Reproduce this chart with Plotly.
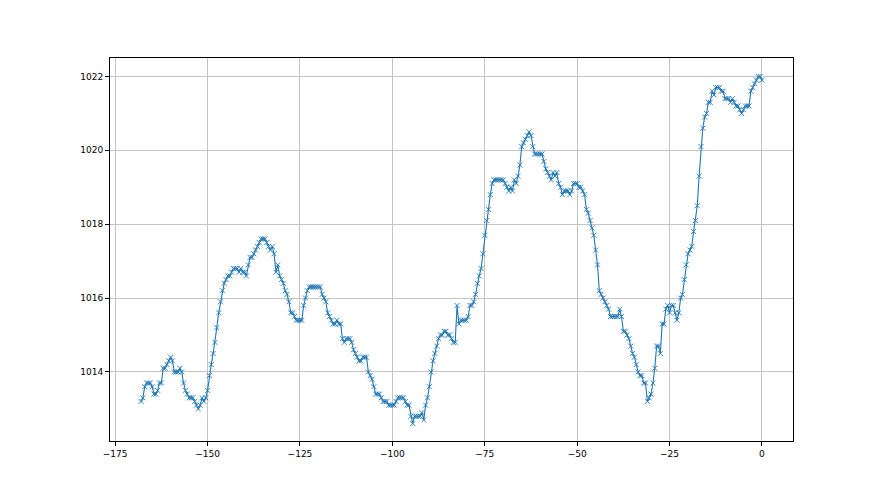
import numpy as np
import plotly.graph_objects as go

# hours relative to now, half-hour steps
hours = np.arange(-168, 0.25, 0.5)

pressure = [
    1013.2, 1013.3, 1013.6, 1013.7, 1013.7, 1013.7, 1013.6, 1013.4, 1013.4, 1013.5,
    1013.7, 1013.7, 1014.1, 1014.1, 1014.2, 1014.3, 1014.4, 1014.3, 1014.0, 1014.0,
    1014.0, 1014.1, 1014.0, 1013.7, 1013.5, 1013.4, 1013.3, 1013.3, 1013.3, 1013.2,
    1013.1, 1013.0, 1013.1, 1013.3, 1013.2, 1013.3, 1013.5, 1013.9, 1014.2, 1014.5,
    1014.8, 1015.2, 1015.6, 1015.9, 1016.2, 1016.4, 1016.5, 1016.6, 1016.6, 1016.7,
    1016.8, 1016.8, 1016.8, 1016.7, 1016.8, 1016.7, 1016.7, 1016.6, 1016.9, 1017.1,
    1017.1, 1017.2, 1017.3, 1017.4, 1017.5, 1017.6, 1017.6, 1017.6, 1017.5, 1017.4,
    1017.3, 1017.4, 1017.2, 1016.7, 1016.9, 1016.6, 1016.5, 1016.4, 1016.2, 1016.1,
    1015.9, 1015.6, 1015.6, 1015.5, 1015.4, 1015.4, 1015.4, 1015.4, 1015.8, 1016.0,
    1016.2, 1016.3, 1016.3, 1016.3, 1016.3, 1016.3, 1016.3, 1016.3, 1016.1, 1016.0,
    1015.9, 1015.6, 1015.5, 1015.4, 1015.3, 1015.3, 1015.4, 1015.3, 1015.3, 1014.9,
    1014.8, 1014.9, 1014.9, 1014.9, 1014.8, 1014.6, 1014.5, 1014.4, 1014.3, 1014.3,
    1014.4, 1014.4, 1014.4, 1014.0, 1013.9, 1013.8, 1013.6, 1013.4, 1013.4, 1013.4,
    1013.3, 1013.2, 1013.2, 1013.2, 1013.1, 1013.1, 1013.1, 1013.1, 1013.2, 1013.3,
    1013.3, 1013.3, 1013.3, 1013.2, 1013.1, 1013.1, 1012.8, 1012.6, 1012.8, 1012.8,
    1012.8, 1012.8, 1012.9, 1012.7, 1013.1, 1013.3, 1013.6, 1014.0, 1014.3, 1014.5,
    1014.7, 1014.9, 1015.0, 1015.0, 1015.1, 1015.1, 1015.0, 1015.0, 1014.9, 1014.8,
    1014.8, 1015.8, 1015.3, 1015.4, 1015.4, 1015.4, 1015.4, 1015.5, 1015.8, 1015.8,
    1015.9, 1016.1, 1016.4, 1016.6, 1016.8, 1017.2, 1017.7, 1018.1, 1018.4, 1018.8,
    1019.1, 1019.2, 1019.2, 1019.2, 1019.2, 1019.2, 1019.2, 1019.1, 1019.0, 1018.9,
    1019.0, 1018.9, 1019.2, 1019.1, 1019.3, 1019.6, 1020.1, 1020.2, 1020.3, 1020.4,
    1020.5, 1020.4, 1020.1, 1019.9, 1019.9, 1019.9, 1019.9, 1019.9, 1019.7, 1019.5,
    1019.4, 1019.3, 1019.2, 1019.4, 1019.3, 1019.4, 1019.1, 1019.0, 1018.8, 1018.9,
    1018.9, 1018.9, 1018.8, 1018.9, 1019.1, 1019.1, 1019.1, 1019.0, 1019.0, 1018.9,
    1018.8, 1018.4, 1018.3, 1018.1, 1017.9, 1017.7, 1017.3, 1016.9, 1016.2, 1016.1,
    1016.0, 1015.9, 1015.8, 1015.7, 1015.5, 1015.5, 1015.5, 1015.5, 1015.5, 1015.7,
    1015.5, 1015.1, 1015.1, 1015.0, 1014.9, 1014.7, 1014.5, 1014.4, 1014.2, 1014.0,
    1013.9, 1013.9, 1013.7, 1013.7, 1013.2, 1013.3, 1013.4, 1013.7, 1014.1, 1014.7,
    1014.7, 1014.5, 1015.3, 1015.3, 1015.7, 1015.8, 1015.6, 1015.8, 1015.8, 1015.6,
    1015.4, 1015.6, 1016.0, 1016.1, 1016.5, 1016.9, 1017.2, 1017.3, 1017.4, 1017.8,
    1018.1, 1018.5, 1019.3, 1020.1, 1020.6, 1020.9, 1021.0, 1021.3, 1021.3, 1021.6,
    1021.5, 1021.7, 1021.7, 1021.7, 1021.6, 1021.6, 1021.4, 1021.4, 1021.4, 1021.3,
    1021.4, 1021.3, 1021.2, 1021.2, 1021.1, 1021.0, 1021.1, 1021.2, 1021.2, 1021.2,
    1021.6, 1021.7, 1021.8, 1021.9, 1022.0, 1022.0, 1021.9,
]

x_ticks = [-175, -150, -125, -100, -75, -50, -25, 0]
y_ticks = [1014, 1016, 1018, 1020, 1022]

assert len(hours) == len(pressure)

fig = go.Figure()
fig.add_trace(go.Scatter(
    x=hours, y=pressure, mode="lines+markers",
    line=dict(color="#1f77b4", width=1.1),
    marker=dict(symbol="x-thin", size=5, color="#1f77b4",
                line=dict(width=0.9, color="#1f77b4")),
    showlegend=False,
))

axis_common = dict(
    showline=True, mirror=True, linecolor="black", linewidth=1,
    showgrid=True, gridcolor="#c4c4c4", gridwidth=0.8,
    zeroline=False, ticks="outside", ticklen=4, tickcolor="black",
    tickfont=dict(family="DejaVu Sans", size=9, color="black"),
)

fig.update_xaxes(range=[-176.4, 8.4], tickvals=x_ticks, **axis_common)
fig.update_yaxes(range=[1012.13, 1022.5], tickvals=y_ticks, **axis_common)

fig.update_layout(
    width=880, height=495,
    margin=dict(l=102, r=95, t=50, b=62),
    paper_bgcolor="white", plot_bgcolor="white",
)

fig.write_html("out.html")
